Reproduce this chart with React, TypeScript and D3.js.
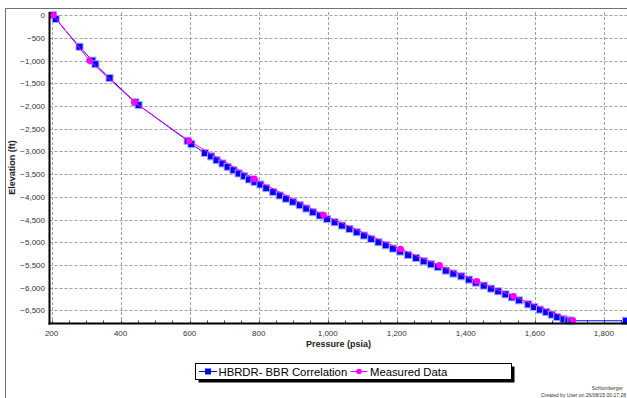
import * as d3 from 'd3';

// HBRDR- BBR Correlation (pressure psia, elevation ft)
const corrPressure = [
  204, 212, 281, 318, 327, 368, 443, 452, 594, 605, 644, 662, 678, 695, 710, 727, 742, 758, 772, 788,
  805, 822, 842, 861, 879, 899, 919, 938, 957, 977, 998, 1020, 1041, 1063, 1084, 1105, 1126, 1147,
  1168, 1189, 1210, 1233, 1256, 1278, 1299, 1319, 1342, 1364, 1387, 1409, 1429, 1452, 1473, 1494,
  1515, 1534, 1554, 1581, 1598, 1615, 1633, 1649, 1665, 1683, 1697, 1706, 1864
];
const corrElevation = [
  0, -85, -695, -1000, -1080, -1385, -1920, -1980, -2765, -2840, -3034, -3109, -3193, -3266, -3340,
  -3413, -3486, -3546, -3618, -3671, -3729, -3810, -3892, -3971, -4042, -4108, -4185, -4258, -4339,
  -4412, -4487, -4560, -4633, -4708, -4780, -4853, -4928, -5001, -5067, -5140, -5206, -5281, -5347,
  -5420, -5486, -5546, -5625, -5691, -5751, -5823, -5890, -5956, -6022, -6081, -6148, -6214, -6280,
  -6368, -6428, -6485, -6538, -6595, -6648, -6695, -6720, -6730, -6730
];

// Measured Data
const measPressure = [205, 310, 440, 598, 787, 988, 1211, 1324, 1432, 1538, 1710];
const measElevation = [0, -1000, -1915, -2770, -3605, -4400, -5150, -5510, -5860, -6190, -6725];

const xTicks = [200, 400, 600, 800, 1000, 1200, 1400, 1600, 1800];
const yTicks = [0, -500, -1000, -1500, -2000, -2500, -3000, -3500, -4000, -4500, -5000, -5500, -6000, -6500];

const W = 627;
const H = 398;
const left = 49.5;
const right = 627;
const top = 12;
const bottom = 323.5;

export default function App() {
  const x = d3.scaleLinear().domain([194, 1867]).range([left, right]);
  const y = d3.scaleLinear().domain([70, -6790]).range([top, bottom]);
  const fmt = d3.format(',');

  const corr = corrPressure.map((p, i) => [p, corrElevation[i]] as [number, number]);
  const meas = measPressure.map((p, i) => [p, measElevation[i]] as [number, number]);
  const line = d3
    .line<[number, number]>()
    .x((d) => x(d[0]))
    .y((d) => y(d[1]));

  const minorX = d3.range(200, 1867, 50);
  const font = '"Liberation Sans", Arial, sans-serif';

  return (
    <svg width={W} height={H} style={{ position: 'absolute', left: 0, top: 0, background: '#fff' }} fontFamily={font}>
      {/* outer frame */}
      <line x1={5.5} x2={5.5} y1={8} y2={H} stroke="#707070" />
      <line x1={5} x2={W} y1={8.5} y2={8.5} stroke="#707070" />

      <defs>
        <clipPath id="plot">
          <rect x={left} y={top - 6} width={right - left + 10} height={bottom - top + 12} />
        </clipPath>
      </defs>

      {/* grid */}
      {yTicks.map((t) => (
        <line key={'gy' + t} x1={left} x2={right} y1={Math.round(y(t)) + 0.5} y2={Math.round(y(t)) + 0.5}
          stroke="#a0a0a0" strokeDasharray="3,2" />
      ))}
      {xTicks.map((t) => (
        <line key={'gx' + t} x1={Math.round(x(t)) + 0.5} x2={Math.round(x(t)) + 0.5} y1={top} y2={bottom}
          stroke="#a0a0a0" strokeDasharray="3,2" />
      ))}

      {/* minor ticks */}
      {minorX.map((t) => (
        <line key={'mx' + t} x1={Math.round(x(t)) + 0.5} x2={Math.round(x(t)) + 0.5} y1={bottom - 3} y2={bottom}
          stroke="#404040" />
      ))}

      {/* series */}
      <g clipPath="url(#plot)">
        <path d={line(corr) ?? ''} fill="none" stroke="#0000ff" strokeWidth={1} />
        {corr.map((d, i) => (
          <rect key={'c' + i} x={x(d[0]) - 3.5} y={y(d[1]) - 3.5} width={7} height={7}
            fill="#0000ff" stroke="#a8a8ff" strokeWidth={1} />
        ))}
        <path d={line(meas) ?? ''} fill="none" stroke="#ff00ff" strokeWidth={1} />
        {meas.map((d, i) => (
          <circle key={'m' + i} cx={x(d[0])} cy={y(d[1])} r={3.3} fill="#ff00ff" />
        ))}
      </g>

      {/* axes */}
      <line x1={left} x2={left} y1={top} y2={bottom + 1} stroke="#000" strokeWidth={2} />
      <line x1={left - 1} x2={W} y1={bottom} y2={bottom} stroke="#000" strokeWidth={2} />

      {yTicks.map((t) => (
        <text key={'ly' + t} x={45} y={y(t) + 3} textAnchor="end" fontSize={8} fill="#333">
          {fmt(t)}
        </text>
      ))}
      {xTicks.map((t) => (
        <text key={'lx' + t} x={x(t)} y={336} textAnchor="middle" fontSize={8} fill="#333">
          {fmt(t)}
        </text>
      ))}

      <text x={338.5} y={347} textAnchor="middle" fontSize={9} fontWeight="bold" fill="#222">
        Pressure (psia)
      </text>
      <text transform="translate(15,167.5) rotate(-90)" textAnchor="middle" fontSize={9} fontWeight="bold" fill="#222">
        Elevation (ft)
      </text>

      {/* legend */}
      <rect x={198.5} y={366.5} width={316} height={16} fill="#000" />
      <rect x={195.5} y={363.5} width={316} height={16} fill="#fff" stroke="#000" />
      <line x1={199} x2={217} y1={371.5} y2={371.5} stroke="#0000ff" />
      <rect x={205} y={368.5} width={6} height={6} fill="#0000ff" />
      <text x={218.5} y={375.5} fontSize={11.3} fill="#000">HBRDR- BBR Correlation</text>
      <line x1={350.5} x2={367.5} y1={371.5} y2={371.5} stroke="#ff00ff" />
      <circle cx={359} cy={371.5} r={2.8} fill="#ff00ff" />
      <text x={370} y={375.5} fontSize={11.3} fill="#000">Measured Data</text>

      {/* footer */}
      <text x={623} y={390} textAnchor="end" fontSize={5} fill="#333">Schlumberger</text>
      <text x={626} y={396.5} textAnchor="end" fontSize={5} fill="#333">Created by User on 26/08/15 00:17:28</text>
    </svg>
  );
}
